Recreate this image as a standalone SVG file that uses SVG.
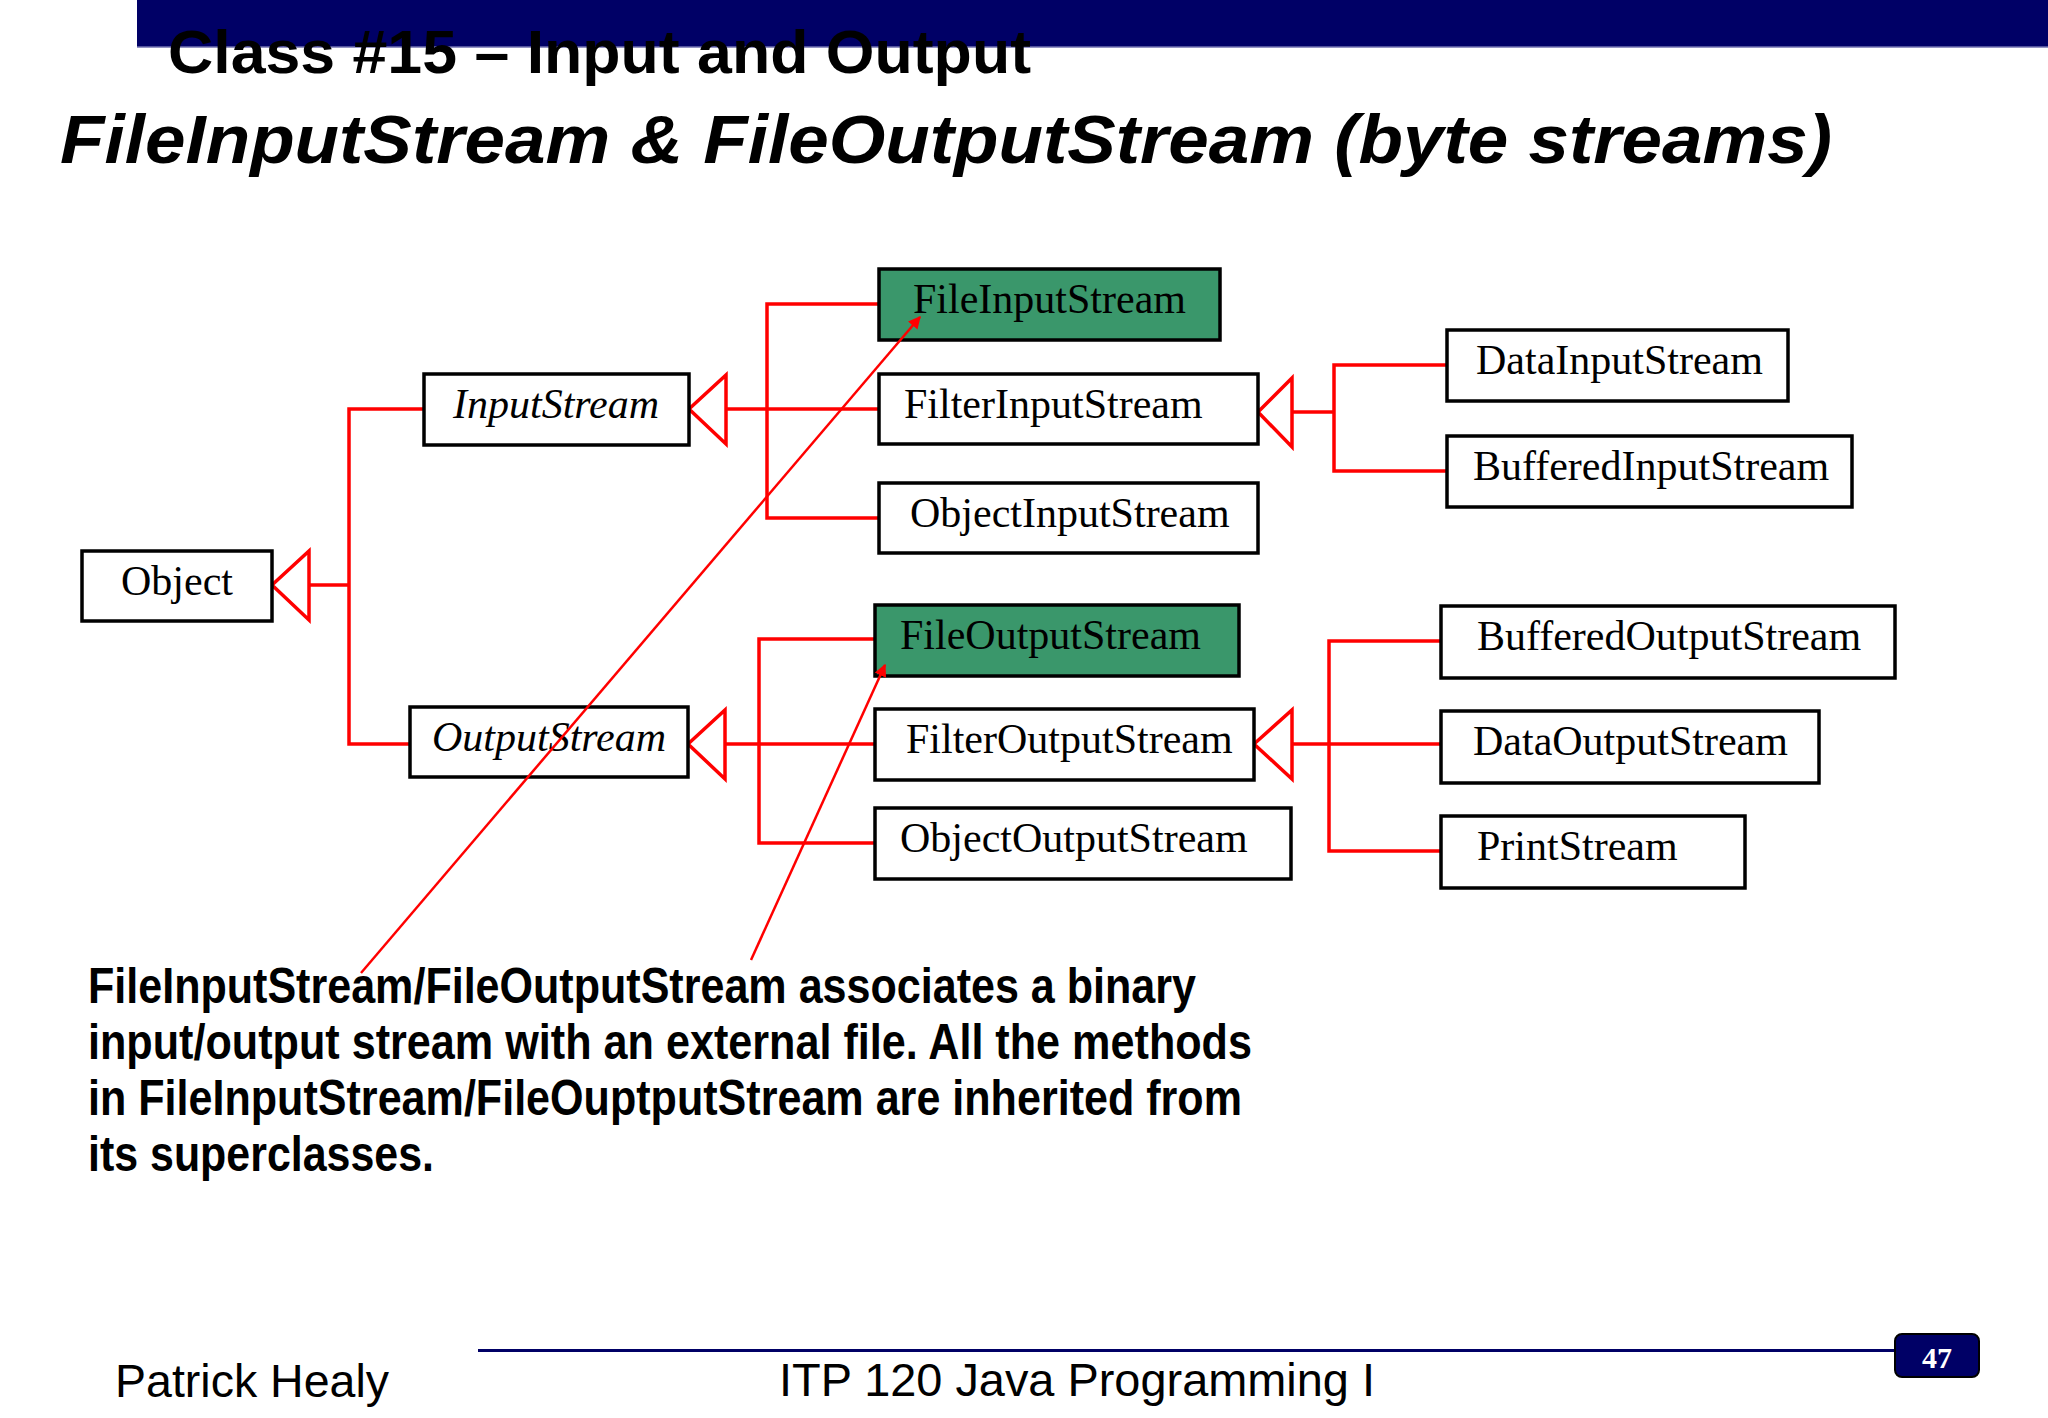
<svg xmlns="http://www.w3.org/2000/svg" width="2048" height="1418" viewBox="0 0 2048 1418">
<style>
.box{fill:#fff;stroke:#000;stroke-width:3.5}
.green{fill:#3a976b;stroke:#000;stroke-width:3.5}
.lbl{font-family:"Liberation Serif","Times New Roman",serif;font-size:42px;fill:#000}
.it{font-style:italic}
.conn{stroke:#f00;stroke-width:3.5;fill:none}
.tri{stroke:#f00;stroke-width:3.5;fill:#fff;stroke-linejoin:miter}
.diag{stroke:#f00;stroke-width:2.5;fill:none}
.narrow{font-family:"Liberation Sans Narrow","Liberation Sans",Arial,sans-serif;fill:#000}
</style>
<defs>
<marker id="ah" viewBox="0 0 10 10" refX="9" refY="5" markerWidth="5" markerHeight="5" orient="auto" markerUnits="strokeWidth">
<path d="M0,0 L10,5 L0,10 z" fill="#f00"/>
</marker>
</defs>
<rect width="2048" height="1418" fill="#fff"/>
<g id="header">
<rect x="137" y="0" width="1911" height="47" fill="#000066"/>
<line x1="137" y1="47" x2="2048" y2="47" stroke="#7070b0" stroke-width="1.5"/>
<text class="narrow" x="168" y="73" font-size="62" font-weight="bold" textLength="863" lengthAdjust="spacingAndGlyphs">Class #15 – Input and Output</text>
<text class="narrow" x="60" y="163" font-size="68" font-weight="bold" font-style="italic" textLength="1772" lengthAdjust="spacingAndGlyphs">FileInputStream &amp; FileOutputStream (byte streams)</text>
</g>
<g id="connectors">
<polyline class="conn" points="309,585 349,585"/>
<polyline class="conn" points="424,409 349,409 349,744 410,744"/>
<polyline class="conn" points="726,409 879,409"/>
<polyline class="conn" points="879,304 767,304 767,518 879,518"/>
<polyline class="conn" points="725,744 875,744"/>
<polyline class="conn" points="875,639 759,639 759,843 875,843"/>
<polyline class="conn" points="1292,412 1334,412"/>
<polyline class="conn" points="1447,365 1334,365 1334,471 1447,471"/>
<polyline class="conn" points="1292,744 1441,744"/>
<polyline class="conn" points="1441,641 1329,641 1329,851 1441,851"/>
<polygon class="tri" points="272,585 309,551 309,620"/>
<polygon class="tri" points="689,409 726,375 726,444"/>
<polygon class="tri" points="688,744 725,710 725,779"/>
<polygon class="tri" points="1258,412 1292,378 1292,447"/>
<polygon class="tri" points="1254,744 1292,710 1292,779"/>
</g>
<g id="node-object"><rect class="box" x="82" y="551" width="190" height="70"/><text class="lbl" x="121" y="595">Object</text></g>
<g id="node-inputstream"><rect class="box" x="424" y="374" width="265" height="71"/><text class="lbl it" x="453" y="418">InputStream</text></g>
<g id="node-outputstream"><rect class="box" x="410" y="707" width="278" height="70"/><text class="lbl it" x="432" y="751">OutputStream</text></g>
<g id="node-fileinputstream"><rect class="green" x="879" y="269" width="341" height="71"/><text class="lbl" x="913" y="313">FileInputStream</text></g>
<g id="node-filterinputstream"><rect class="box" x="879" y="374" width="379" height="70"/><text class="lbl" x="904" y="418">FilterInputStream</text></g>
<g id="node-objectinputstream"><rect class="box" x="879" y="483" width="379" height="70"/><text class="lbl" x="910" y="527">ObjectInputStream</text></g>
<g id="node-fileoutputstream"><rect class="green" x="875" y="605" width="364" height="71"/><text class="lbl" x="900" y="649">FileOutputStream</text></g>
<g id="node-filteroutputstream"><rect class="box" x="875" y="709" width="379" height="71"/><text class="lbl" x="906" y="753">FilterOutputStream</text></g>
<g id="node-objectoutputstream"><rect class="box" x="875" y="808" width="416" height="71"/><text class="lbl" x="900" y="852">ObjectOutputStream</text></g>
<g id="node-datainputstream"><rect class="box" x="1447" y="330" width="341" height="71"/><text class="lbl" x="1476" y="374">DataInputStream</text></g>
<g id="node-bufferedinputstream"><rect class="box" x="1447" y="436" width="405" height="71"/><text class="lbl" x="1473" y="480">BufferedInputStream</text></g>
<g id="node-bufferedoutputstream"><rect class="box" x="1441" y="606" width="454" height="72"/><text class="lbl" x="1477" y="650">BufferedOutputStream</text></g>
<g id="node-dataoutputstream"><rect class="box" x="1441" y="711" width="378" height="72"/><text class="lbl" x="1473" y="755">DataOutputStream</text></g>
<g id="node-printstream"><rect class="box" x="1441" y="816" width="304" height="72"/><text class="lbl" x="1477" y="860">PrintStream</text></g>
<g id="annotation">
<line class="diag" x1="361" y1="973" x2="920" y2="317" marker-end="url(#ah)"/>
<line class="diag" x1="751" y1="960" x2="885" y2="665" marker-end="url(#ah)"/>
<text class="narrow" font-size="50" font-weight="bold">
<tspan x="88" y="1003" textLength="1108" lengthAdjust="spacingAndGlyphs">FileInputStream/FileOutputStream associates a binary</tspan>
<tspan x="88" y="1059" textLength="1164" lengthAdjust="spacingAndGlyphs">input/output stream with an external file. All the methods</tspan>
<tspan x="88" y="1115" textLength="1154" lengthAdjust="spacingAndGlyphs">in FileInputStream/FileOuptputStream are inherited from</tspan>
<tspan x="88" y="1171" textLength="346" lengthAdjust="spacingAndGlyphs">its superclasses.</tspan>
</text>
</g>
<g id="footer">
<line x1="478" y1="1350.5" x2="1896" y2="1350.5" stroke="#000066" stroke-width="3"/>
<text class="narrow" x="115" y="1397" font-size="46" textLength="274" lengthAdjust="spacingAndGlyphs">Patrick Healy</text>
<text class="narrow" x="779" y="1396" font-size="47" textLength="596" lengthAdjust="spacingAndGlyphs">ITP 120 Java Programming I</text>
<rect x="1895" y="1334" width="84" height="43" rx="7" fill="#000066" stroke="#000" stroke-width="2"/>
<text x="1937" y="1368" font-family="Liberation Serif,serif" font-size="30" font-weight="bold" fill="#fff" text-anchor="middle">47</text>
</g>
</svg>
